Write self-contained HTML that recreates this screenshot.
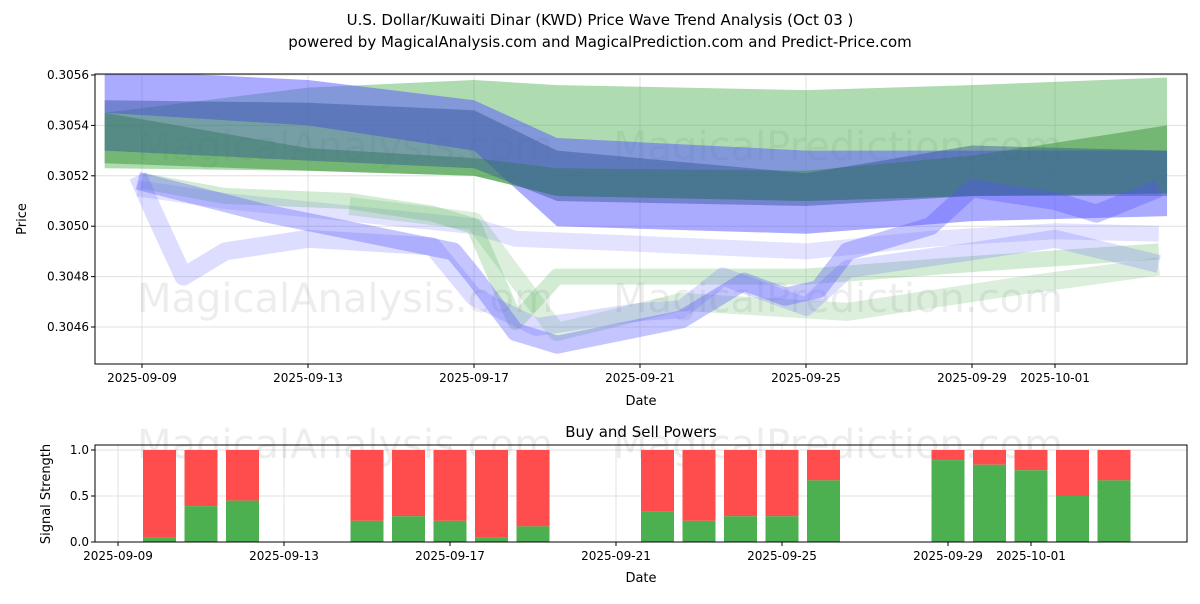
<!DOCTYPE html>
<html><head><meta charset="utf-8"><style>
body{margin:0;background:#fff;font-family:"DejaVu Sans","Liberation Sans",sans-serif}
svg text{font-family:"DejaVu Sans","Liberation Sans",sans-serif}
</style></head><body>
<svg id="c" width="1200" height="600" xmlns="http://www.w3.org/2000/svg">
<text x="600" y="25" text-anchor="middle" font-size="15">U.S. Dollar/Kuwaiti Dinar (KWD) Price Wave Trend Analysis (Oct 03 )</text>
<text x="600" y="47" text-anchor="middle" font-size="15">powered by MagicalAnalysis.com and MagicalPrediction.com and Predict-Price.com</text>
<g id="main"></g>
<g id="bottom"></g>
</svg>
<script>
// ---- data ----
const xTickLabels=["2025-09-09","2025-09-13","2025-09-17","2025-09-21","2025-09-25","2025-09-29","2025-10-01"];
const xTickDays=[0,4,8,12,16,20,22];
const yTicks=[0.3046,0.3048,0.3050,0.3052,0.3054,0.3056];
// bands: day offsets from 2025-09-09, upper/lower values
const bandDays=[-0.9,4,8,10,16,20,24.7];
const bandGreenLightUp=[0.30545,0.30555,0.30558,0.30556,0.30554,0.30556,0.30559];
const bandGreenLightLo=[0.30523,0.30522,0.30520,0.30512,0.30510,0.30512,0.30513];
const bandGreenUp=[0.30545,0.30531,0.30527,0.30523,0.30522,0.30528,0.30540];
const bandGreenLo=[0.30525,0.30522,0.30520,0.30512,0.30510,0.30512,0.30513];
const bandBlueUp=[0.30562,0.30558,0.30550,0.30535,0.30530,0.30530,0.30530];
const bandBlueLo=[0.30545,0.30540,0.30530,0.30500,0.30497,0.30502,0.30504];
const bandBlue2Up=[0.30550,0.30549,0.30546,0.30530,0.30521,0.30532,0.30530];
const bandBlue2Lo=[0.30530,0.30526,0.30523,0.30510,0.30508,0.30512,0.30512];
const lineADays=[-0.1,3,6,7.5,8,9,10,13,14.5,15.5,16.3,17,19,20,22,23,24.5];
const lineAVals=[0.30518,0.30505,0.30495,0.30490,0.30480,0.30458,0.30453,0.30463,0.30478,0.30472,0.30475,0.30490,0.30500,0.30515,0.30510,0.30505,0.30515];
const lineBDays=[-0.1,0.3,1,2,4,7,8,9.5,12,13,14,16,17,20,22,24.5];
const lineBVals=[0.30520,0.30505,0.30480,0.30490,0.30495,0.30492,0.30472,0.30460,0.30466,0.30467,0.30480,0.30468,0.30483,0.30490,0.30495,0.30485];
const lineCDays=[0,2,5,7,8,9,10,16,20,24.5];
const lineCVals=[0.30518,0.30512,0.30510,0.30505,0.30500,0.30462,0.30480,0.30480,0.30485,0.30490];
const lineDDays=[5,8,10,13,17,21,24.5];
const lineDVals=[0.30508,0.30502,0.30458,0.30470,0.30466,0.30476,0.30484];
const lineEDays=[-0.1,2,5,8,9,12,16,19,22,24.5];
const lineEVals=[0.30515,0.30510,0.30505,0.30500,0.30495,0.30493,0.30490,0.30495,0.30498,0.30497];
// buy/sell powers
const barDays=[1,2,3,6,7,8,9,10,13,14,15,16,17,20,21,22,23,24];
const buyVals=[0.05,0.39,0.45,0.23,0.28,0.23,0.05,0.17,0.33,0.23,0.28,0.28,0.67,0.89,0.84,0.78,0.5,0.67];
const bTicks=[0,0.5,1.0];

const NS="http://www.w3.org/2000/svg";
function mk(p,t,a){const e=document.createElementNS(NS,t);for(const k in a)e.setAttribute(k,a[k]);p.appendChild(e);return e;}
const main=document.getElementById('main'), bot=document.getElementById('bottom');
const L=95,R=1187,T=74,B=364;
const x=d=>142+d*41.5;
const y=v=>75+(0.3056-v)/0.0002*50.4;
const bx=d=>118+d*41.5, bT=445,bB=542;
const by=v=>542-v*92;

const defs=mk(main,'defs',{});
const cp=mk(defs,'clipPath',{id:'clipm'});mk(cp,'rect',{x:L,y:T,width:R-L,height:B-T});
yTicks.forEach(v=>{const l=mk(main,'line',{x1:L,x2:R,y1:y(v),y2:y(v),stroke:'#e0e0e0'});

mk(main,'line',{x1:L-4,x2:L,y1:y(v),y2:y(v),stroke:'#000'});
const t=mk(main,'text',{x:L-6,y:y(v)+4,'text-anchor':'end','font-size':12});t.textContent=v.toFixed(4);
});
xTickDays.forEach((d,i)=>{const l=mk(main,'line',{x1:x(d),x2:x(d),y1:T,y2:B,stroke:'#e0e0e0'});

mk(main,'line',{x1:x(d),x2:x(d),y1:B,y2:B+4,stroke:'#000'});
const t=mk(main,'text',{x:x(d),y:B+18,'text-anchor':'middle','font-size':12});t.textContent=xTickLabels[i];
});
[[345,160],[838,160],[345,312],[838,312]].forEach((p,i)=>{const t=mk(main,'text',{x:p[0],y:p[1],'text-anchor':'middle','font-size':40,fill:'#000','fill-opacity':0.07});
t.textContent=i%2?'MagicalPrediction.com':'MagicalAnalysis.com';});
const g=mk(main,'g',{'clip-path':'url(#clipm)'});
function band(up,lo,col,op,name){const pts=bandDays.map((d,i)=>x(d)+','+y(up[i])).concat(bandDays.map((d,i)=>x(d)+','+y(lo[i])).reverse());
const p=mk(g,'polygon',{points:pts.join(' '),fill:col,'fill-opacity':op});}
band(bandGreenLightUp,bandGreenLightLo,'#4caf50',0.45,'green-band-light');
band(bandBlueUp,bandBlueLo,'#5555ff',0.5,'blue-band');
band(bandGreenUp,bandGreenLo,'#2e8b2e',0.45,'green-band');
band(bandBlue2Up,bandBlue2Lo,'#33559a',0.45,'blue-band-dark');
function line(ds,vs,col,op,w,name){const p=mk(g,'polyline',{points:ds.map((d,i)=>x(d)+','+y(vs[i])).join(' '),fill:'none',stroke:col,'stroke-opacity':op,'stroke-width':w,'stroke-linejoin':'round'});
}
line(lineEDays,lineEVals,'#6666ff',0.18,16,'wave-line-e');
line(lineDDays,lineDVals,'#4caf50',0.2,18,'wave-line-d');
line(lineCDays,lineCVals,'#4caf50',0.25,16,'wave-line-c');
line(lineBDays,lineBVals,'#6666ff',0.22,18,'wave-line-b');
line(lineADays,lineAVals,'#5555ff',0.35,18,'wave-line-a');
mk(main,'rect',{x:L,y:T,width:R-L,height:B-T,fill:'none',stroke:'#000'});
let t=mk(main,'text',{x:641,y:405,'text-anchor':'middle','font-size':13});t.textContent='Date';
t=mk(main,'text',{x:26,y:219,'text-anchor':'middle','font-size':13,transform:'rotate(-90 26 219)'});t.textContent='Price';

t=mk(bot,'text',{x:641,y:437,'text-anchor':'middle','font-size':15});t.textContent='Buy and Sell Powers';
bTicks.forEach(v=>{const l=mk(bot,'line',{x1:L,x2:R,y1:by(v),y2:by(v),stroke:'#e0e0e0'});
mk(bot,'line',{x1:L-4,x2:L,y1:by(v),y2:by(v),stroke:'#000'});
const tt=mk(bot,'text',{x:L-6,y:by(v)+4,'text-anchor':'end','font-size':12});tt.textContent=v.toFixed(1);});
xTickDays.forEach((d,i)=>{const l=mk(bot,'line',{x1:bx(d),x2:bx(d),y1:bT,y2:bB,stroke:'#e0e0e0'});
mk(bot,'line',{x1:bx(d),x2:bx(d),y1:bB,y2:bB+4,stroke:'#000'});
const tt=mk(bot,'text',{x:bx(d),y:bB+18,'text-anchor':'middle','font-size':12});tt.textContent=xTickLabels[i];});
[[345,458],[838,458]].forEach((p,i)=>{const w=mk(bot,'text',{x:p[0],y:p[1],'text-anchor':'middle','font-size':40,fill:'#000','fill-opacity':0.07});w.textContent=i?'MagicalPrediction.com':'MagicalAnalysis.com';});
barDays.forEach((d,i)=>{const s=mk(bot,'rect',{x:bx(d)-16.5,y:by(1),width:33,height:by(buyVals[i])-by(1),fill:'#ff4c4c'});

const b=mk(bot,'rect',{x:bx(d)-16.5,y:by(buyVals[i]),width:33,height:by(0)-by(buyVals[i]),fill:'#4caf50'});
});
mk(bot,'rect',{x:L,y:bT,width:R-L,height:bB-bT,fill:'none',stroke:'#000'});
t=mk(bot,'text',{x:641,y:582,'text-anchor':'middle','font-size':13});t.textContent='Date';
t=mk(bot,'text',{x:50,y:494,'text-anchor':'middle','font-size':13,transform:'rotate(-90 50 494)'});t.textContent='Signal Strength';
</script>
</body></html>
